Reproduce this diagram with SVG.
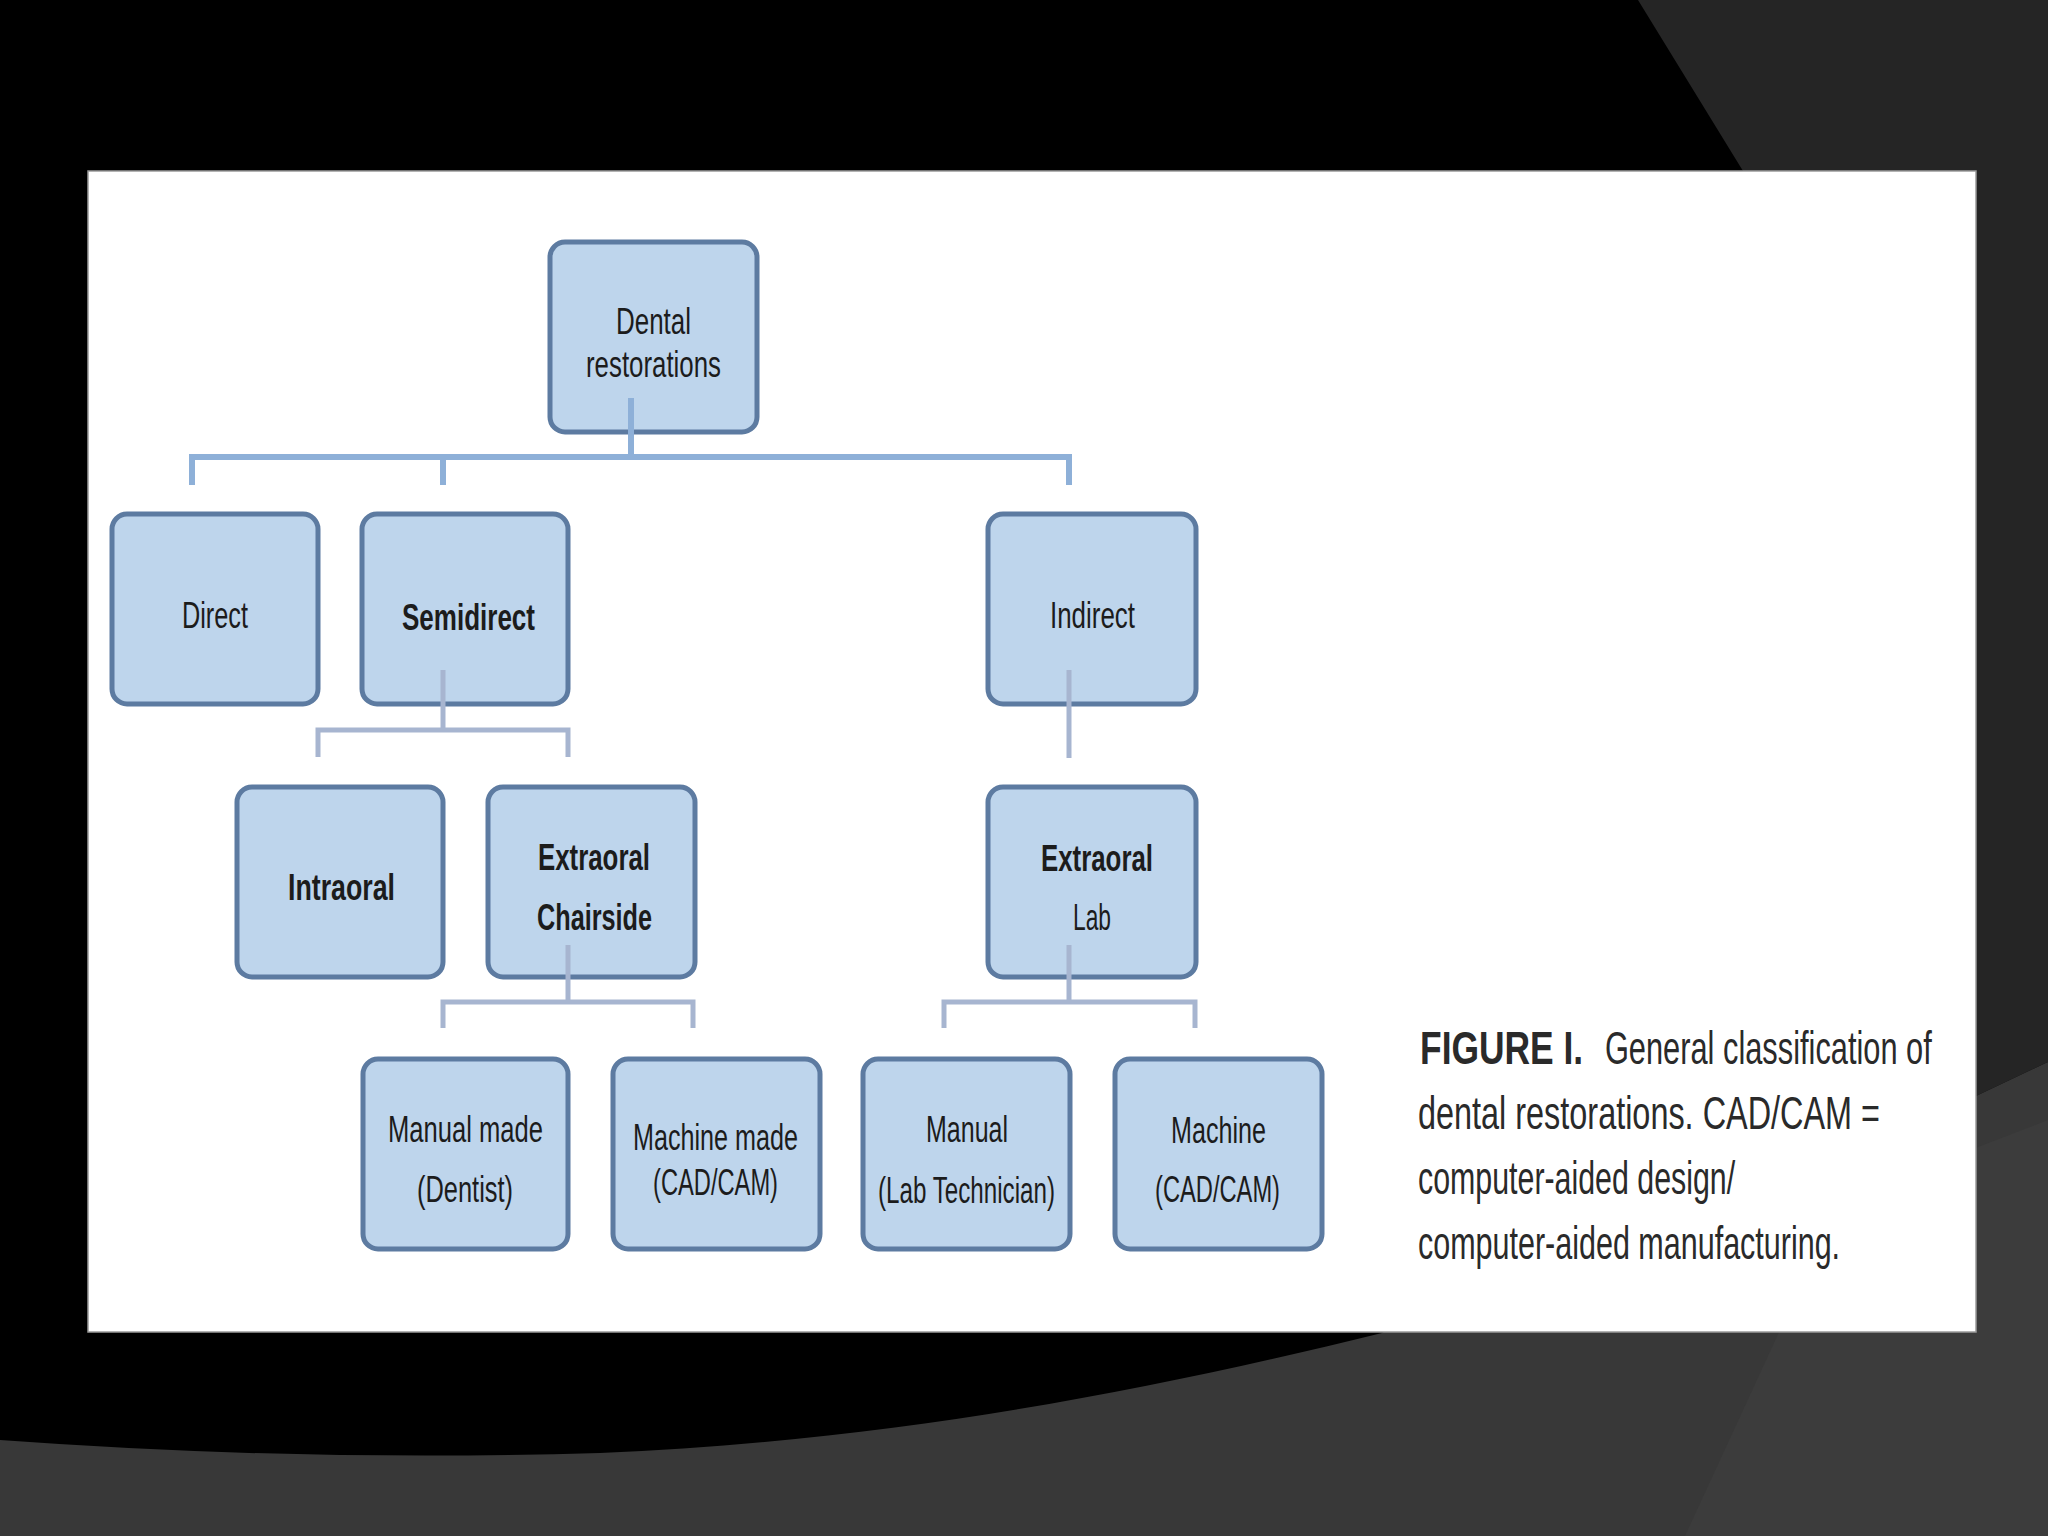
<svg xmlns="http://www.w3.org/2000/svg" width="2048" height="1536" viewBox="0 0 2048 1536">
<defs>
<style>
.box{fill:#bed5ec;stroke:#5d7ba1;stroke-width:5}
.lbl{font-family:"Liberation Sans",Arial,sans-serif;font-size:36px;fill:#1c1c1c}
.b{font-weight:bold}
.cap{font-family:"Liberation Sans",Arial,sans-serif;font-size:46px;fill:#2a2a2a}
.c1{fill:none;stroke:#8eb0d8;stroke-width:6}
.c2{fill:none;stroke:#a7b5d0;stroke-width:5}
</style>
</defs>
<rect x="0" y="0" width="2048" height="1536" fill="#000"/>
<path d="M1638,0 L2048,0 L2048,1062 L1976,1096 L1900,1000 L1743,171 Z" fill="#252525"/>
<path d="M0,1440 Q300,1462 600,1453 C900,1440 1150,1390 1382,1333 L1600,1200 L1976,1096 L2048,1062 L2048,1536 L0,1536 Z" fill="#383838"/>
<path d="M1840,1200 L1685,1536 L2048,1536 L2048,1120 Z" fill="#3c3c3c"/>
<rect x="88" y="171" width="1888" height="1161" fill="#fff" stroke="#9a9a9a" stroke-width="1.5"/>

<g id="nodes">
<g id="n-dental"><rect class="box" x="550" y="242" width="207" height="190" rx="15"/>
<text class="lbl" x="616" y="334" textLength="75" lengthAdjust="spacingAndGlyphs">Dental</text>
<text class="lbl" x="586" y="377" textLength="135" lengthAdjust="spacingAndGlyphs">restorations</text></g>
<g id="n-direct"><rect class="box" x="112" y="514" width="206" height="190" rx="15"/>
<text class="lbl" x="182" y="628" textLength="66" lengthAdjust="spacingAndGlyphs">Direct</text></g>
<g id="n-semidirect"><rect class="box" x="362" y="514" width="206" height="190" rx="15"/>
<text class="lbl b" x="402" y="630" textLength="133" lengthAdjust="spacingAndGlyphs">Semidirect</text></g>
<g id="n-indirect"><rect class="box" x="988" y="514" width="208" height="190" rx="15"/>
<text class="lbl" x="1050" y="628" textLength="85" lengthAdjust="spacingAndGlyphs">Indirect</text></g>
<g id="n-intraoral"><rect class="box" x="237" y="787" width="206" height="190" rx="15"/>
<text class="lbl b" x="288" y="900" textLength="107" lengthAdjust="spacingAndGlyphs">Intraoral</text></g>
<g id="n-chairside"><rect class="box" x="488" y="787" width="207" height="190" rx="15"/>
<text class="lbl b" x="538" y="870" textLength="112" lengthAdjust="spacingAndGlyphs">Extraoral</text>
<text class="lbl b" x="537" y="930" textLength="115" lengthAdjust="spacingAndGlyphs">Chairside</text></g>
<g id="n-lab"><rect class="box" x="988" y="787" width="208" height="190" rx="15"/>
<text class="lbl b" x="1041" y="871" textLength="112" lengthAdjust="spacingAndGlyphs">Extraoral</text>
<text class="lbl" x="1073" y="930" textLength="38" lengthAdjust="spacingAndGlyphs">Lab</text></g>
<g id="n-manual-dentist"><rect class="box" x="363" y="1059" width="205" height="190" rx="15"/>
<text class="lbl" x="388" y="1142" textLength="155" lengthAdjust="spacingAndGlyphs">Manual made</text>
<text class="lbl" x="417" y="1202" textLength="96" lengthAdjust="spacingAndGlyphs">(Dentist)</text></g>
<g id="n-machine-made"><rect class="box" x="613" y="1059" width="207" height="190" rx="15"/>
<text class="lbl" x="633" y="1150" textLength="165" lengthAdjust="spacingAndGlyphs">Machine made</text>
<text class="lbl" x="653" y="1195" textLength="125" lengthAdjust="spacingAndGlyphs">(CAD/CAM)</text></g>
<g id="n-manual-lab"><rect class="box" x="863" y="1059" width="207" height="190" rx="15"/>
<text class="lbl" x="926" y="1142" textLength="82" lengthAdjust="spacingAndGlyphs">Manual</text>
<text class="lbl" x="878" y="1203" textLength="177" lengthAdjust="spacingAndGlyphs">(Lab Technician)</text></g>
<g id="n-machine"><rect class="box" x="1115" y="1059" width="207" height="190" rx="15"/>
<text class="lbl" x="1171" y="1143" textLength="95" lengthAdjust="spacingAndGlyphs">Machine</text>
<text class="lbl" x="1155" y="1202" textLength="125" lengthAdjust="spacingAndGlyphs">(CAD/CAM)</text></g>
</g>

<g id="connectors">
<path class="c1" d="M631,398 V457"/>
<path class="c1" d="M192,485 V457 H1069 V485"/>
<path class="c1" d="M443,457 V485"/>
<path class="c2" d="M443,670 V730"/>
<path class="c2" d="M318,757 V730 H568 V757"/>
<path class="c2" d="M1069,670 V758"/>
<path class="c2" d="M568,945 V1002"/>
<path class="c2" d="M443,1028 V1002 H693 V1028"/>
<path class="c2" d="M1069,945 V1002"/>
<path class="c2" d="M944,1028 V1002 H1195 V1028"/>
</g>

<g id="caption" transform="translate(1418,0) scale(0.7,1)">
<text class="cap b" x="3" y="1064" textLength="233" lengthAdjust="spacingAndGlyphs">FIGURE I.</text>
<text class="cap" x="267" y="1064" textLength="467" lengthAdjust="spacingAndGlyphs">General classification of</text>
<text class="cap" x="0" y="1129" textLength="660" lengthAdjust="spacingAndGlyphs">dental restorations. CAD/CAM =</text>
<text class="cap" x="0" y="1194" textLength="453" lengthAdjust="spacingAndGlyphs">computer-aided design/</text>
<text class="cap" x="0" y="1259" textLength="603" lengthAdjust="spacingAndGlyphs">computer-aided manufacturing.</text>
</g>
</svg>
